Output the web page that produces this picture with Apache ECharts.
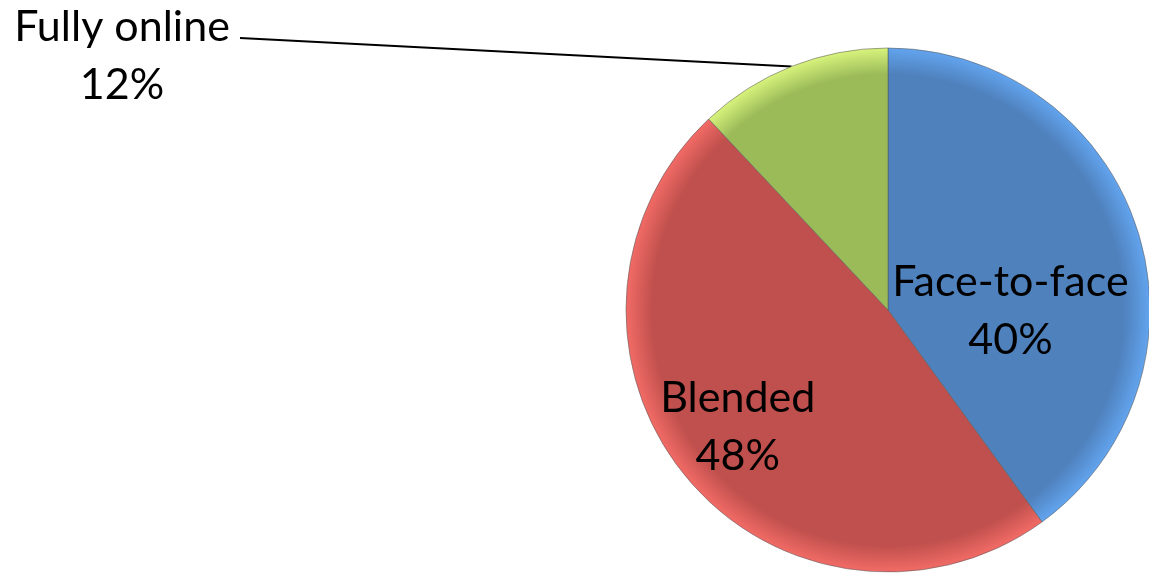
<!DOCTYPE html>
<html>
<head>
<meta charset="utf-8">
<script src="https://cdn.jsdelivr.net/npm/echarts@6/dist/echarts.min.js"></script>
<style>
  html, body { margin: 0; padding: 0; background: #fff; }
  #chart { width: 1149px; height: 575px; }
</style>
</head>
<body>
<div id="chart"></div>
<script>
// Share of course delivery modes
const categories = ['Face-to-face', 'Blended', 'Fully online'];
const shares = [40, 48, 12];
const baseColors = ['#4F81BD', '#C0504D', '#9BBB59'];
const rimColors = ['#62A4EE', '#F26B66', '#D8F37C'];

const CX = 888, CY = 310, R = 262;

function sliceFill(i) {
  return {
    type: 'radial', x: CX, y: CY, r: R, global: true,
    colorStops: [
      { offset: 0, color: baseColors[i] },
      { offset: 0.9, color: baseColors[i] },
      { offset: 1, color: rimColors[i] }
    ]
  };
}

const chart = echarts.init(document.getElementById('chart'), null, { renderer: 'canvas' });

const labelFont = {
  fontFamily: 'Lato, "Noto Sans", sans-serif',
  fontSize: 43,
  lineHeight: 58,
  color: '#000'
};

chart.setOption({
  animation: false,
  series: [{
    type: 'pie',
    center: [CX, CY],
    radius: R,
    startAngle: 90,
    clockwise: true,
    data: categories.map((name, i) => ({
      name,
      value: shares[i],
      itemStyle: { color: sliceFill(i), borderColor: 'rgba(90,90,90,0.55)', borderWidth: 1 },
      label: i === 2
        ? Object.assign({ show: true, position: 'outside', formatter: '{b}\n{d}%', align: 'center' }, labelFont)
        : Object.assign({ show: true, position: 'inside', formatter: '{b}\n{d}%', align: 'center' }, labelFont),
      labelLine: i === 2
        ? { show: true, length: 20, length2: 20, lineStyle: { color: '#000', width: 2 } }
        : { show: false }
    })),
    labelLayout: function (p) {
      if (p.dataIndex === 0) return { dx: -5, dy: 43 };
      if (p.dataIndex === 1) return { dx: -47, dy: 32 };
      // outside label sits in the top-left corner with a single straight leader
      const start = p.labelLinePoints ? p.labelLinePoints[0] : [793, 65];
      const end = [240, 38];
      return {
        x: 122, y: 56, align: 'center', verticalAlign: 'middle',
        labelLinePoints: [start, [(start[0] + end[0]) / 2, (start[1] + end[1]) / 2], end]
      };
    }
  }]
});
</script>
</body>
</html>
